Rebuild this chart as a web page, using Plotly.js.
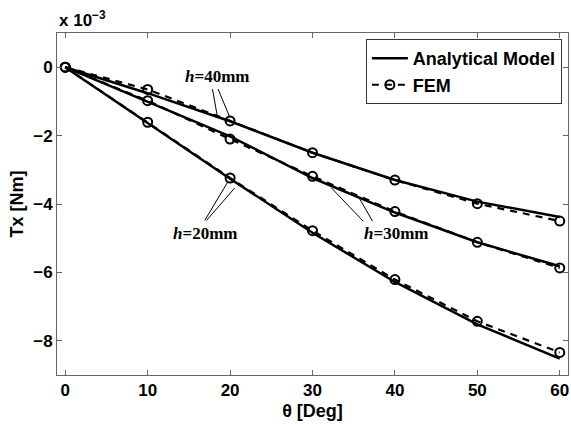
<!DOCTYPE html>
<html>
<head>
<meta charset="utf-8">
<script src="https://cdn.plot.ly/plotly-3.0.1.min.js"></script>
<style>html,body{margin:0;padding:0;background:#fff;}#chart{width:571px;height:425px;}</style>
</head>
<body>
<div id="chart"></div>
<script>
// Rotation angle theta [Deg]
const theta = [0, 10, 20, 30, 40, 50, 60];

// Analytical model, Tx [Nm]
const analytical_h40 = [0, -0.76e-3, -1.58e-3, -2.50e-3, -3.30e-3, -3.93e-3, -4.38e-3];
const analytical_h30 = [0, -1.00e-3, -2.02e-3, -3.24e-3, -4.25e-3, -5.12e-3, -5.82e-3];
const analytical_h20 = [0, -1.62e-3, -3.26e-3, -4.84e-3, -6.28e-3, -7.52e-3, -8.52e-3];

// FEM results, Tx [Nm]
const fem_h40 = [0, -0.65e-3, -1.57e-3, -2.50e-3, -3.30e-3, -3.99e-3, -4.50e-3];
const fem_h30 = [0, -0.98e-3, -2.10e-3, -3.19e-3, -4.22e-3, -5.12e-3, -5.87e-3];
const fem_h20 = [0, -1.61e-3, -3.24e-3, -4.78e-3, -6.21e-3, -7.43e-3, -8.34e-3];

// Tick labels
const xTicks = [0, 10, 20, 30, 40, 50, 60];
const yTickVals = [0, -2e-3, -4e-3, -6e-3, -8e-3];
const yTickText = ['0', '\u22122', '\u22124', '\u22126', '\u22128'];

const solidLine = {color: '#000', width: 2.5};
const dashLine = {color: '#000', width: 2.2, dash: '7px,6px'};
const circ = {symbol: 'circle-open', size: 9, color: '#000', line: {color: '#000', width: 2}};

function analytic(y, show) {
  return {x: theta, y: y, type: 'scatter', mode: 'lines', line: solidLine,
          name: 'Analytical Model', showlegend: show, legendgroup: 'a'};
}
function fem(y, show) {
  return {x: theta, y: y, type: 'scatter', mode: 'lines+markers', line: dashLine, marker: circ,
          name: 'FEM', showlegend: show, legendgroup: 'f'};
}

const data = [
  analytic(analytical_h40, true),
  fem(fem_h40, true),
  analytic(analytical_h30, false),
  fem(fem_h30, false),
  analytic(analytical_h20, false),
  fem(fem_h20, false)
];

const sans = '"Liberation Sans", Arial, sans-serif';
const lblFont = {family: '"Liberation Serif", "Times New Roman", serif', size: 17, color: '#000'};
function hLabel(txt, x, y) {
  return {x: x, y: y, xref: 'x', yref: 'y', showarrow: false,
          text: '<b><i>h</i>=' + txt + '</b>', font: lblFont};
}
function leader(x0, y0, x1, y1) {
  return {type: 'line', xref: 'x', yref: 'y', x0: x0, y0: y0, x1: x1, y1: y1,
          line: {color: '#000', width: 1}};
}

const axisCommon = {
  showline: true, linecolor: '#666', linewidth: 1, mirror: 'ticks',
  ticks: 'inside', ticklen: 5, tickcolor: '#666', tickwidth: 1,
  showgrid: false, zeroline: false,
  tickfont: {family: sans, size: 17, color: '#000', weight: 'bold'}
};

const layout = {
  width: 571, height: 425,
  margin: {l: 57, r: 3, t: 33, b: 50},
  paper_bgcolor: '#fff', plot_bgcolor: '#fff',
  showlegend: true,
  legend: {x: 0.988, y: 0.982, xanchor: 'right', yanchor: 'top',
           bordercolor: '#333', borderwidth: 1, bgcolor: '#fff',
           font: {family: sans, size: 18, color: '#000', weight: 'bold'},
           tracegroupgap: 0, itemwidth: 36},
  xaxis: Object.assign({}, axisCommon, {
    range: [-1, 61], tickvals: xTicks, ticktext: xTicks.map(String),
    title: {text: '<b>\u03b8 [Deg]</b>', standoff: 4,
            font: {family: sans, size: 18, color: '#000'}}
  }),
  yaxis: Object.assign({}, axisCommon, {
    range: [-9e-3, 1e-3], tickvals: yTickVals, ticktext: yTickText,
    title: {text: '<b>Tx [Nm]</b>', standoff: 4,
            font: {family: sans, size: 18, color: '#000'}}
  }),
  annotations: [
    {xref: 'paper', yref: 'paper', x: 0, y: 1, xanchor: 'left', yanchor: 'bottom', yshift: 1,
     showarrow: false, text: '<b>x 10<sup>\u22123</sup></b>',
     font: {family: sans, size: 17, color: '#000'}},
    hLabel('40mm', 18.4, -0.28e-3),
    hLabel('20mm', 16.9, -4.85e-3),
    hLabel('30mm', 40.1, -4.85e-3)
  ],
  shapes: [
    leader(17.86, -0.64e-3, 18.47, -1.46e-3),
    leader(18.54, -0.64e-3, 19.96, -1.46e-3),
    leader(16.93, -4.48e-3, 19.76, -3.34e-3),
    leader(17.14, -4.48e-3, 20.57, -3.53e-3),
    leader(36.14, -4.50e-3, 32.3, -3.53e-3),
    leader(37.28, -4.50e-3, 35.53, -3.77e-3)
  ]
};

Plotly.newPlot('chart', data, layout, {displayModeBar: false, staticPlot: true});
</script>
</body>
</html>
